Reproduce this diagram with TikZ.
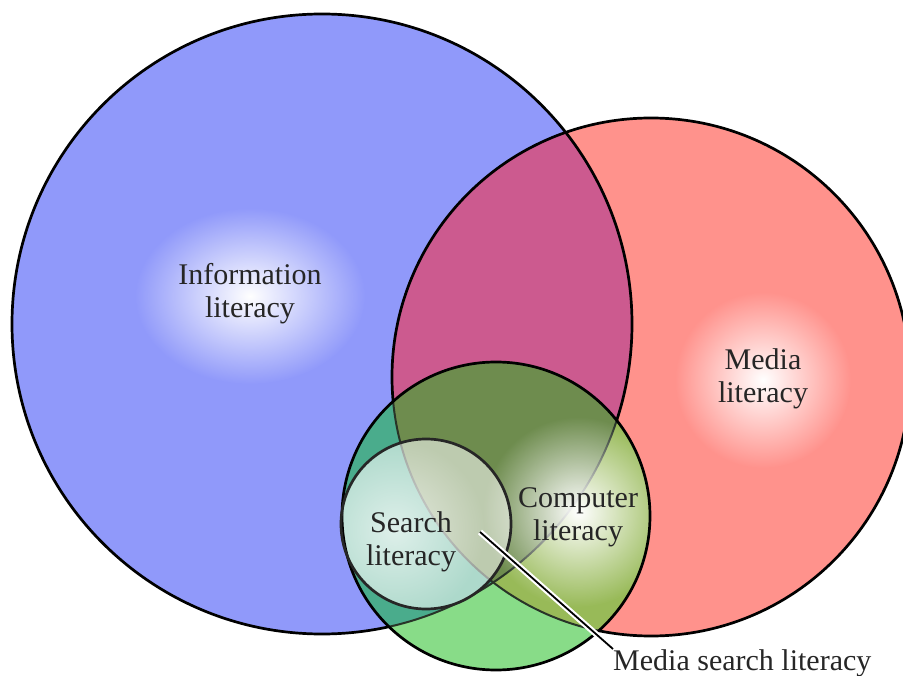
\documentclass[tikz,border=0pt]{standalone}
\usepackage{fontspec}
\setmainfont{Liberation Serif}
\usetikzlibrary{fadings}

\definecolor{infoblue}{RGB}{144,153,250}
\definecolor{mediared}{RGB}{255,146,140}
\definecolor{infomedia}{RGB}{204,90,143}
\definecolor{compgreen}{RGB}{136,220,136}
\definecolor{compinfo}{RGB}{74,172,140}
\definecolor{compmedia}{RGB}{152,186,88}
\definecolor{compall}{RGB}{110,140,78}
\definecolor{innerline}{RGB}{40,52,40}

\tikzfading[name=glow, inner color=transparent!0, outer color=transparent!100]

\tikzset{
  ring/.style={draw=black, line width=2.7pt},
  faintring/.style={draw=innerline, line width=2pt},
  lit/.style={font=\fontsize{30}{33}\selectfont, align=center, text=black!85, inner sep=0pt},
}

\begin{document}
\begin{tikzpicture}[x=1pt,y=-1pt]
\useasboundingbox (0,0) rectangle (903,676);
\def\info{(322,324) circle (310)}
\def\media{(651,377) circle (259)}
\def\comp{(496,516) circle (154)}
\def\search{(426,524) circle (85)}
% the two big circles
\fill[infoblue] \info;
\fill[mediared] \media;
\begin{scope}
  \clip \info;
  \fill[infomedia] \media;
\end{scope}
% glows behind the labels
\fill[white, path fading=glow] (250,296) ellipse (115 and 88);
\fill[white, path fading=glow] (763,380) circle (88);
\draw[ring] \info;
\draw[ring] \media;
% computer literacy and its overlaps
\fill[compgreen] \comp;
\begin{scope}
  \clip \comp;
  \fill[compinfo] \info;
  \fill[compmedia] \media;
  \clip \info;
  \fill[compall] \media;
\end{scope}
% arcs seen through the green
\begin{scope}
  \clip \comp;
  \draw[faintring] \info;
  \draw[faintring] \media;
  \fill[white, path fading=glow] (578,512) circle (95);
\end{scope}
% search literacy
\begin{scope}
  \clip \search;
  \fill[white, opacity=0.55] \search;
  \fill[white, path fading=glow, opacity=0.6] (395,530) circle (90);
\end{scope}
\draw[ring] \comp;
\draw[ring, draw=black!85] \search;
% labels
\node[lit] (info) at (250,294) {Information\\literacy};
\node[lit] (media) at (763,379) {Media\\literacy};
\node[lit] (comp) at (578,517) {Computer\\literacy};
\node[lit] (search) at (411,542) {Search\\literacy};
\node[lit, anchor=base west] (msl) at (613,670) {Media search literacy};
% pointer to the media search overlap
\coordinate (mspot) at (480,532);
\draw[white, line width=6pt] (mspot) -- (msl.north west);
\draw[black, line width=1.8pt] (mspot) -- (msl.north west);
\end{tikzpicture}
\end{document}
